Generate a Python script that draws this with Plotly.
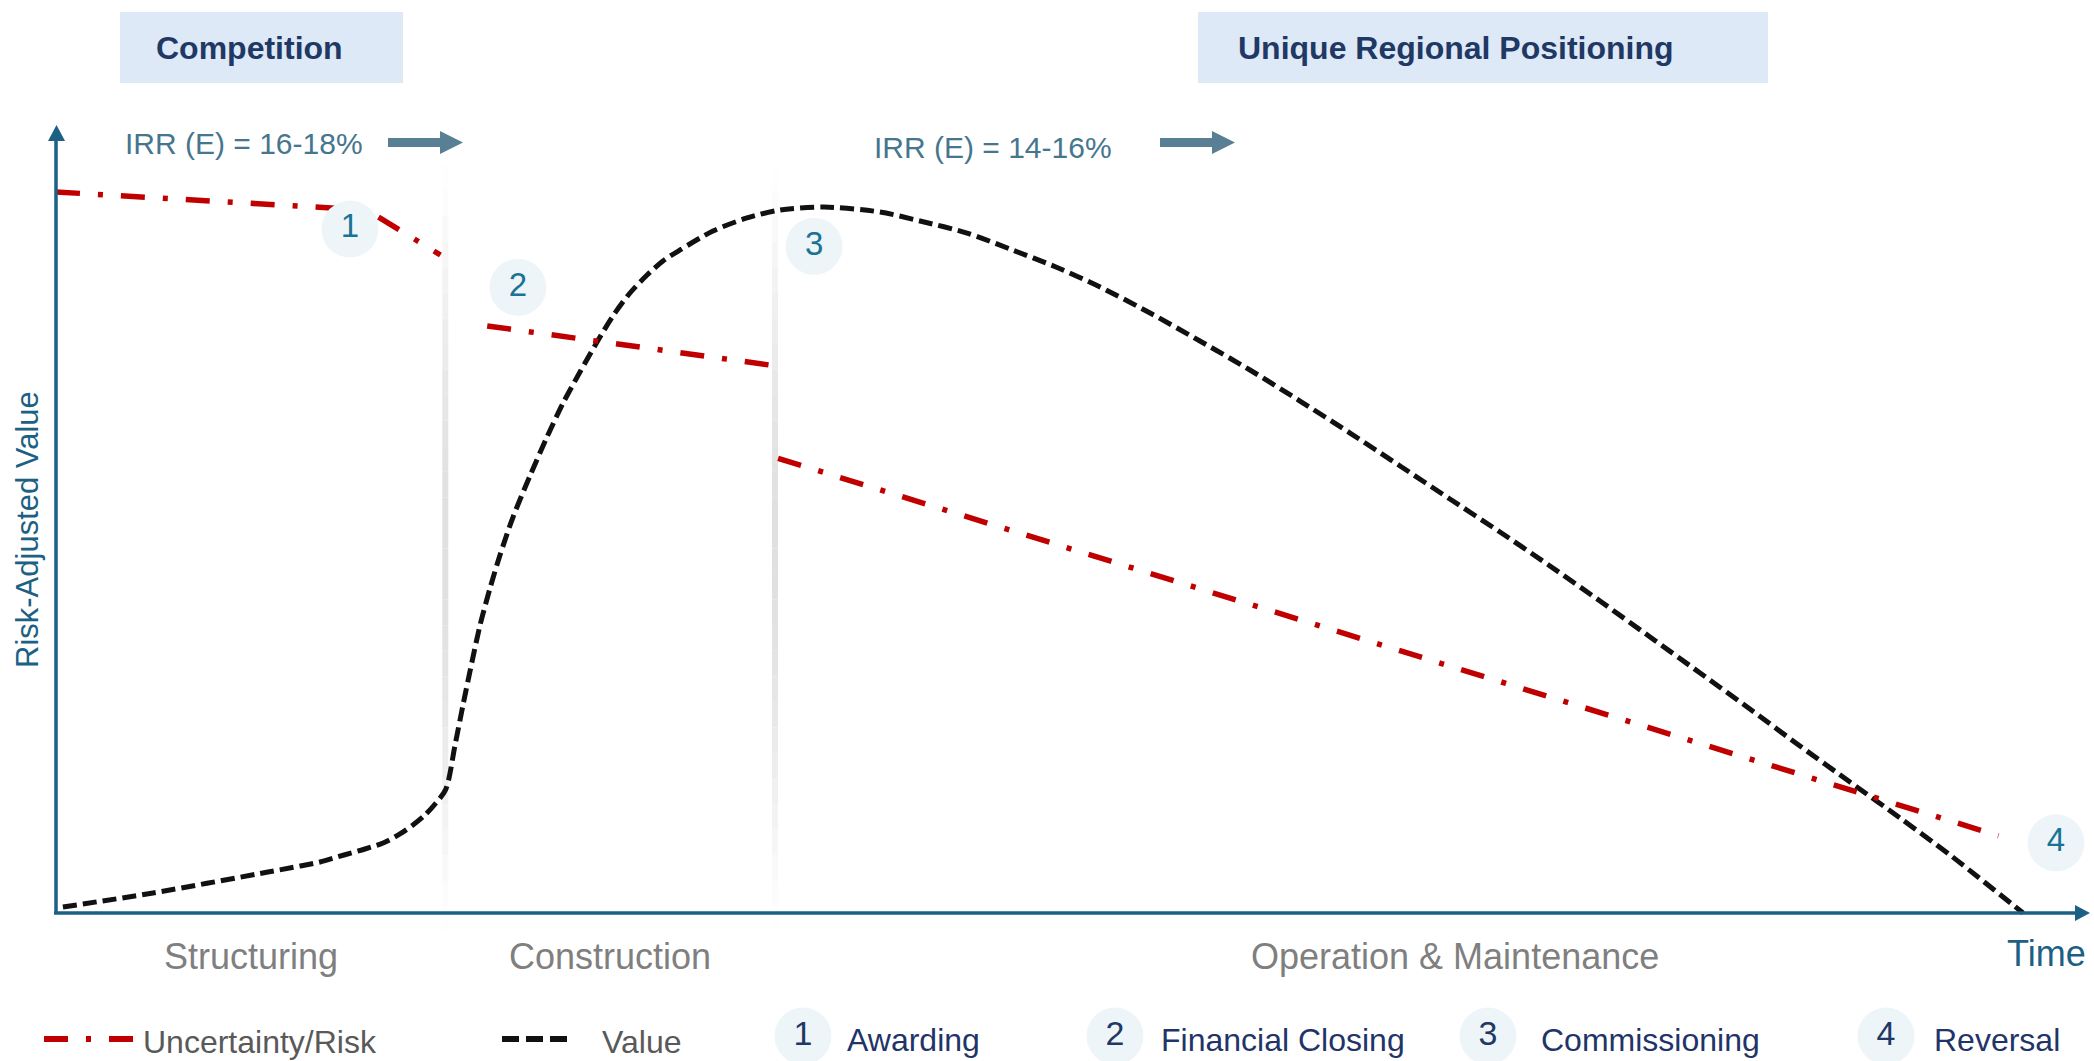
import math
import plotly.graph_objects as go

# ---------------- data (time 0-100, risk-adjusted value 0-100) ----------------
value_time = [0.34, 4.77, 10.42, 12.00, 12.98, 14.16, 15.19, 16.08, 16.91, 17.55, 18.14,
              18.68, 19.17, 19.62, 20.01, 20.45, 20.85, 21.34, 21.83, 22.47, 23.30, 24.14,
              24.93, 25.76, 26.60, 27.38, 28.22, 29.06, 29.84, 30.68, 32.30, 33.97, 35.60,
              37.76, 40.51, 42.48, 44.79, 46.90, 49.16, 51.33, 53.79, 56.24, 58.70, 61.16,
              63.62, 66.08, 68.53, 70.99, 73.45, 75.91, 78.37, 80.83, 83.28, 85.74, 88.20,
              90.66, 93.12, 96.71]
value_level = [0.76, 2.54, 5.20, 5.96, 6.47, 7.36, 8.12, 8.88, 10.03, 11.17, 12.44,
               13.96, 15.74, 21.32, 26.40, 31.85, 36.55, 41.24, 45.43, 50.25, 55.46, 60.41,
               64.72, 68.65, 72.46, 75.76, 78.68, 80.96, 82.74, 84.14, 86.55, 88.20, 89.21,
               89.59, 88.96, 87.82, 86.29, 84.26, 81.98, 79.44, 76.14, 72.59, 68.91, 64.97,
               60.91, 56.73, 52.54, 48.35, 44.04, 39.59, 35.03, 30.46, 25.89, 21.19, 16.62,
               12.06, 7.36, 0.0]

risk_time = [0.0, 15.3, 18.9, None, 21.2, 35.2, None, 35.5, 95.5]
risk_level = [91.5, 89.2, 83.5, None, 74.5, 69.5, None, 57.7, 9.8]

phase_names = ["Structuring", "Construction", "Operation & Maintenance"]
phase_bounds = [0.0, 19.14, 35.35, 102.2]

milestone_numbers = ["1", "2", "3", "4"]
milestone_names = ["Awarding", "Financial Closing", "Commissioning", "Reversal"]
milestone_time = [14.45, 22.71, 37.27, 98.33]
milestone_level = [86.8, 79.4, 84.6, 8.9]

strategy_labels = ["Competition", "Unique Regional Positioning"]
irr_labels = ["IRR (E) = 16-18%", "IRR (E) = 14-16%"]
series_names = ["Uncertainty/Risk", "Value"]

# ---------------- layout helpers (pixel placement of decorations) ----------------
W, H = 2094, 1061
X0PX, Y0PX = 56, 913
SX, SY = 20.34, 7.88


def X(px):
    return (px - X0PX) / SX


def Y(py):
    return (Y0PX - py) / SY


FONT = "Liberation Sans, Arial, sans-serif"
AXIS_C = "#1c6083"
RED = "#c00000"
BLACK = "#111111"
NAVY = "#1f3864"
TEAL = "#1a7394"
CIRCLE = "#eef5f9"

fig = go.Figure()
shapes = []
annotations = []

# phase separators (soft grey gradient lines)
for b in phase_bounds[1:-1]:
    n = 30
    top, bot = 165, 932
    for i in range(n):
        y0 = top + (bot - top) * i / n
        y1 = top + (bot - top) * (i + 1) / n
        k = math.sin(math.pi * (i + 0.5) / n) ** 1.2
        g = int(round(255 - (255 - 224) * k))
        shapes.append(dict(type="line", xref="x", yref="y", x0=b, x1=b, y0=Y(y0), y1=Y(y1),
                           line=dict(color=f"rgb({g},{g},{g})", width=6), layer="below"))

# header boxes
boxes = [(120, 12, 403, 83, 154), (1198, 12, 1768, 83, 1236)]
for (x0, y0, x1, y1, tx), lab in zip(boxes, strategy_labels):
    shapes.append(dict(type="rect", xref="x", yref="y", x0=X(x0), x1=X(x1), y0=Y(y1), y1=Y(y0),
                       fillcolor="#dde9f6", line=dict(width=0), layer="below"))
    annotations.append(dict(x=X(tx), y=Y(48), xref="x", yref="y", text=lab, showarrow=False,
                            xanchor="left", yanchor="middle",
                            font=dict(family=FONT, size=32, color=NAVY, weight="bold")))

# IRR labels + block arrows
irr_pos = [(123, 143, 388), (872, 147, 1160)]
for (tx, ty, ax), lab in zip(irr_pos, irr_labels):
    annotations.append(dict(x=X(tx), y=Y(ty), xref="x", yref="y", text=lab, showarrow=False,
                            xanchor="left", yanchor="middle",
                            font=dict(family=FONT, size=30, color="#46768e")))
    cy = 142.5
    pts = [(ax, cy - 4.5), (ax + 52, cy - 4.5), (ax + 52, cy - 11.5), (ax + 75, cy),
           (ax + 52, cy + 11.5), (ax + 52, cy + 4.5), (ax, cy + 4.5)]
    path = "M " + " L ".join(f"{X(p[0]):.4f},{Y(p[1]):.4f}" for p in pts) + " Z"
    shapes.append(dict(type="path", xref="x", yref="y", path=path, fillcolor="#587f94",
                       line=dict(width=0)))

# axes with arrow heads
shapes.append(dict(type="line", xref="x", yref="y", x0=X(56), x1=X(56), y0=Y(914), y1=Y(138),
                   line=dict(color=AXIS_C, width=3.5)))
shapes.append(dict(type="path", xref="x", yref="y",
                   path=f"M {X(48):.4f},{Y(141):.4f} L {X(65):.4f},{Y(141):.4f} L {X(56.5):.4f},{Y(125):.4f} Z",
                   fillcolor=AXIS_C, line=dict(width=0)))
shapes.append(dict(type="line", xref="x", yref="y", x0=X(54), x1=X(2077), y0=Y(913), y1=Y(913),
                   line=dict(color=AXIS_C, width=3.5)))
shapes.append(dict(type="path", xref="x", yref="y",
                   path=f"M {X(2075):.4f},{Y(905):.4f} L {X(2075):.4f},{Y(921):.4f} L {X(2090):.4f},{Y(913):.4f} Z",
                   fillcolor=AXIS_C, line=dict(width=0)))

annotations.append(dict(x=X(27), y=Y(530), xref="x", yref="y", text="Risk-Adjusted Value",
                        showarrow=False, textangle=-90, xanchor="center", yanchor="middle",
                        font=dict(family=FONT, size=31, color=AXIS_C)))
annotations.append(dict(x=X(2088), y=Y(953), xref="x", yref="y", text="Time",
                        showarrow=False, xanchor="right", yanchor="middle",
                        font=dict(family=FONT, size=36, color=AXIS_C)))

# phase labels
for i, name in enumerate(phase_names):
    cx = (phase_bounds[i] + phase_bounds[i + 1]) / 2
    annotations.append(dict(x=cx, y=Y(956), xref="x", yref="y", text=name, showarrow=False,
                            xanchor="center", yanchor="middle",
                            font=dict(family=FONT, size=36, color="#7f7f7f")))

# ---------------- data traces ----------------
fig.add_trace(go.Scatter(x=value_time, y=value_level, mode="lines", name=series_names[1],
                         line=dict(color=BLACK, width=5, dash="14px,6px", shape="spline",
                                   smoothing=0.8),
                         hoverinfo="skip"))
fig.add_trace(go.Scatter(x=risk_time, y=risk_level, mode="lines", name=series_names[0],
                         line=dict(color=RED, width=5.5, dash="24px,18px,5px,18px"),
                         connectgaps=False, hoverinfo="skip"))
fig.add_trace(go.Scatter(x=milestone_time, y=milestone_level, mode="markers+text",
                         text=milestone_numbers, textposition="middle center",
                         marker=dict(size=57, color=CIRCLE, line=dict(width=0)),
                         textfont=dict(family=FONT, size=33, color=TEAL),
                         cliponaxis=False, hoverinfo="skip"))

# ---------------- custom legend ----------------
leg_y = 1039
shapes.append(dict(type="line", xref="x", yref="y", x0=X(44), x1=X(133), y0=Y(leg_y), y1=Y(leg_y),
                   line=dict(color=RED, width=6, dash="24px,18px,5px,18px")))
shapes.append(dict(type="line", xref="x", yref="y", x0=X(502), x1=X(567), y0=Y(leg_y), y1=Y(leg_y),
                   line=dict(color=BLACK, width=6, dash="17px,7px")))
for tx, lab in zip([141, 600], series_names):
    annotations.append(dict(x=X(tx), y=Y(1042), xref="x", yref="y", text=lab, showarrow=False,
                            xanchor="left", yanchor="middle",
                            font=dict(family=FONT, size=32, color="#595959")))

leg_cx = [803, 1115, 1488, 1886]
leg_tx = [845, 1159, 1539, 1932]
fig.add_trace(go.Scatter(x=[X(c) for c in leg_cx], y=[Y(1036)] * 4, mode="markers+text",
                         text=milestone_numbers, textposition="middle center",
                         marker=dict(size=57, color=CIRCLE, line=dict(width=0)),
                         textfont=dict(family=FONT, size=34, color=NAVY),
                         cliponaxis=False, hoverinfo="skip"))
for tx, lab in zip(leg_tx, milestone_names):
    annotations.append(dict(x=X(tx), y=Y(1040), xref="x", yref="y", text=lab, showarrow=False,
                            xanchor="left", yanchor="middle",
                            font=dict(family=FONT, size=32, color="#1f3468")))

fig.update_layout(
    width=W, height=H, autosize=False,
    margin=dict(l=0, r=0, t=0, b=0, pad=0),
    paper_bgcolor="white", plot_bgcolor="white",
    showlegend=False,
    xaxis=dict(visible=False, range=[X(0), X(W)], fixedrange=True),
    yaxis=dict(visible=False, range=[Y(H), Y(0)], fixedrange=True),
    shapes=shapes, annotations=annotations,
)

fig.write_html("out.html")
